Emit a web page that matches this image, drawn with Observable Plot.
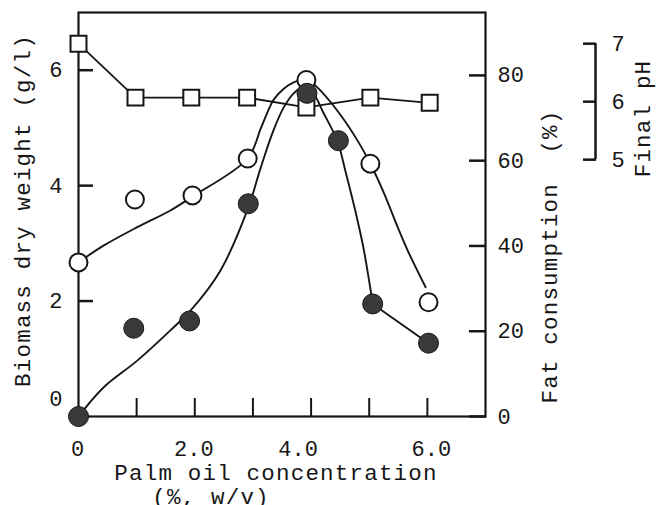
<!DOCTYPE html>
<html>
<head>
<meta charset="utf-8">
<script src="https://cdn.jsdelivr.net/npm/d3@7"></script>
<script src="https://cdn.jsdelivr.net/npm/@observablehq/plot@0.6"></script>
<style>
  html, body { margin: 0; padding: 0; background: #fff; }
  svg text { white-space: pre; }
  svg g[font-size="22.5"] text { letter-spacing: 1.2px; }
</style>
</head>
<body>
<div id="chart"></div>
<script>
// ---- data ----
// Biomass dry weight (g/l), open circles
const xBiomass = [0, 0.97, 1.96, 2.91, 3.92, 5.02, 6.02];
const biomass = [2.67, 3.76, 3.83, 4.47, 5.83, 4.38, 1.98];
// Fat consumption (%), filled circles
const xFat = [0, 0.95, 1.91, 2.92, 3.93, 4.47, 5.06, 6.02];
const fatConsumption = [0, 20.7, 22.4, 49.9, 75.8, 64.7, 26.4, 17.2];
// Final pH, squares
const xPh = [0, 0.98, 1.94, 2.9, 3.92, 5.02, 6.04];
const finalPh = [7.0, 6.07, 6.07, 6.07, 5.9, 6.07, 5.98];

// hand-drawn fitted curves
const biomassCurveX = [0, 0.43, 1.01, 1.58, 1.94, 2.91, 3.13, 3.25, 3.35, 3.53, 3.70, 3.90, 4.02, 4.16, 4.51, 4.80, 5.02, 5.25, 5.49, 5.66, 5.97];
const biomassCurveY = [2.67, 2.96, 3.28, 3.57, 3.80, 4.47, 4.98, 5.27, 5.48, 5.68, 5.79, 5.84, 5.78, 5.65, 5.22, 4.78, 4.38, 3.88, 3.28, 2.88, 2.24];
const fatCurveX = [0, 0.43, 1.01, 1.58, 1.93, 2.44, 2.92, 3.13, 3.35, 3.53, 3.70, 3.88, 4.04, 4.21, 4.45, 4.59, 4.76, 4.90, 5.06];
const fatCurveY = [0, 6.8, 13.1, 20.2, 24.9, 34.2, 49.0, 58.2, 67.0, 72.5, 75.8, 77.4, 75.8, 71.3, 64.7, 57.6, 48.3, 39.6, 26.5];
const fatTailX = [5.06, 6.02];
const fatTailY = [26.4, 17.2];

// axes ticks
const xTicks = [1, 2, 3, 4, 5, 6];
const xLabels = [0, 2, 4, 6];
const biomassTicks = [2, 4, 6];
const fatTicks = [0, 20, 40, 60, 80];
const phTicks = [5, 6, 7];

// ---- secondary axis alignment (layout) ----
const fatToY = f => f * 5.91 / 80;
const phToY = p => 4.45 + (p - 5) * 1.005;
const xMax = 7, yMax = 7;

const ink = "#161616";
const font = "'Liberation Mono', 'DejaVu Sans Mono', monospace";

const biomassPts = xBiomass.map((x, i) => ({x, y: biomass[i]}));
const fatPts = xFat.map((x, i) => ({x, y: fatToY(fatConsumption[i])}));
const phPts = xPh.map((x, i) => ({x, y: phToY(finalPh[i])}));
const biomassCurve = biomassCurveX.map((x, i) => ({x, y: biomassCurveY[i]}));
const fatCurve = fatCurveX.map((x, i) => ({x, y: fatToY(fatCurveY[i])}));
const fatTail = fatTailX.map((x, i) => ({x, y: fatToY(fatTailY[i])}));

const fatLabel = new Map(fatTicks.map(t => [fatToY(t), String(t)]));
const phLabel = new Map(phTicks.map(t => [phToY(t), String(t)]));
const xFmt = d => d === 0 ? "0" : d.toFixed(1);

const title = {text: d => d, fontSize: 22.5, fill: ink, textAnchor: "middle", lineAnchor: "middle"};
const xLab = {anchor: "bottom", tickSize: 0, tickPadding: 24, tickFormat: xFmt, fill: ink, label: null};

const chart = Plot.plot({
  width: 656,
  height: 505,
  marginLeft: 78,
  marginRight: 171,
  marginTop: 12,
  marginBottom: 89,
  style: {fontFamily: font, fontSize: "22px", color: ink, background: "#fff", overflow: "visible"},
  x: {domain: [0, xMax]},
  y: {domain: [0, yMax]},
  marks: [
    Plot.frame({stroke: ink, strokeWidth: 2.2}),
    // x axis
    Plot.axisX(xTicks, {anchor: "bottom", tickSize: -18, tickFormat: () => "", strokeWidth: 2, stroke: ink, label: null}),
    Plot.axisX(xLabels.filter(d => d < 4), {...xLab, dx: -1}),
    Plot.axisX(xLabels.filter(d => d === 4), {...xLab, dx: -13}),
    Plot.axisX(xLabels.filter(d => d > 4), {...xLab, dx: 4}),
    // left biomass axis
    Plot.axisY(biomassTicks, {anchor: "left", tickSize: -15, tickPadding: 31, tickFormat: d => String(d), strokeWidth: 2.5, stroke: ink, fill: ink, label: null}),
    Plot.axisY([0], {anchor: "left", tickSize: 0, tickPadding: 16, dy: -18, tickFormat: d => String(d), fill: ink, label: null}),
    // right fat axis
    Plot.axisY(fatTicks.map(fatToY), {anchor: "right", tickSize: -17, tickPadding: 29, tickFormat: v => fatLabel.get(v), strokeWidth: 2.5, stroke: ink, fill: ink, label: null}),
    // pH bracket axis
    Plot.ruleX([xMax], {y1: phToY(5), y2: phToY(7), dx: 110, stroke: ink, strokeWidth: 2.5}),
    Plot.axisY(phTicks.map(phToY), {anchor: "right", dx: 110, tickSize: -13, tickPadding: 29, tickFormat: v => phLabel.get(v), strokeWidth: 2.5, stroke: ink, fill: ink, label: null}),
    // axis titles
    Plot.text(["Palm oil concentration"], {...title, frameAnchor: "bottom", dx: -6, dy: 56}),
    Plot.text(["(%, w/v)"], {...title, frameAnchor: "bottom", dx: -71, dy: 80}),
    Plot.text(["Biomass dry weight (g/l)"], {...title, frameAnchor: "left", rotate: -90, dx: -56, dy: -4}),
    Plot.text(["Fat consumption  (%)"], {...title, frameAnchor: "right", rotate: -90, dx: 64, dy: 42}),
    Plot.text(["Final pH"], {...title, frameAnchor: "right", rotate: -90, dx: 157, dy: -96}),
    // lines
    Plot.line(phPts, {x: "x", y: "y", stroke: ink, strokeWidth: 1.8}),
    Plot.line(biomassCurve, {x: "x", y: "y", curve: "catmull-rom", stroke: ink, strokeWidth: 1.9}),
    Plot.line(fatCurve, {x: "x", y: "y", curve: "catmull-rom", stroke: ink, strokeWidth: 1.9}),
    Plot.line(fatTail, {x: "x", y: "y", stroke: ink, strokeWidth: 1.9}),
    // markers
    Plot.dot(phPts, {x: "x", y: "y", symbol: "square", r: 9, fill: "#fff", stroke: ink, strokeWidth: 2}),
    Plot.dot(biomassPts, {x: "x", y: "y", r: 9, fill: "#fff", stroke: ink, strokeWidth: 2}),
    Plot.dot(fatPts, {x: "x", y: "y", r: 10, fill: "#3a3a3a", stroke: ink, strokeWidth: 1})
  ]
});
document.getElementById("chart").appendChild(chart);
</script>
</body>
</html>
